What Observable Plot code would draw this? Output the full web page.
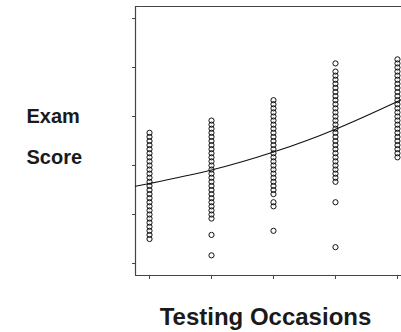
<!DOCTYPE html>
<html>
<head>
<meta charset="utf-8">
<script src="https://cdn.jsdelivr.net/npm/d3@7"></script>
<script src="https://cdn.jsdelivr.net/npm/@observablehq/plot@0.6"></script>
<style>
  html, body { margin: 0; padding: 0; background: #fff; overflow: hidden; }
  svg { display: block; }
</style>
</head>
<body>
<div id="chart"></div>
<script>
// Testing occasions (x categories)
const occasions = [1, 2, 3, 4, 5];

const scores1 = [6,7,8,9,10,11,12,13,14,15,16,17,18,19,20,21,22,23,24,25,26,27,28,29,30,31,32];
const scores2 = [2,7,11,12,13,14,15,16,17,18,19,20,21,22,23,24,25,26,27,28,29,30,31,32,33,34,35];
const scores3 = [8,14,15,17,18,19,20,21,22,23,24,25,26,27,28,29,30,31,32,33,34,35,36,37,38,39,40];
const scores4 = [4,15,20,21,22,23,24,25,26,27,28,29,30,31,32,33,34,35,36,37,38,39,40,41,42,43,44,45,46,47,49];
const scores5 = [26,27,28,29,30,31,32,33,34,35,36,37,38,39,40,41,42,43,44,45,46,47,48,49,50];

// Fitted growth curve, read at the frame edges and each occasion
const curveX = [0.774, 1, 2, 3, 4, 5, 5.065];
const curveY = [18.9, 19.6, 22.9, 27.3, 32.9, 39.7, 40.2];

// Axis ticks (unlabelled in the original)
const yTicks = [0, 12, 24, 36, 48, 60];
const xDomain = [0.774, 5.065];
const yDomain = [-2.94, 62.94];

const yLabelLines = ["Exam", "Score"];
const xLabel = "Testing Occasions";

const allScores = [scores1, scores2, scores3, scores4, scores5];
const points = [];
occasions.forEach((o, i) => allScores[i].forEach(s => points.push({occasion: o, score: s})));
const curve = curveX.map((x, i) => ({x, y: curveY[i]}));

const font = "Arial, 'Liberation Sans', Helvetica, sans-serif";
const axisColor = "#444";

const chart = Plot.plot({
  width: 401,
  height: 332,
  marginLeft: 135,
  marginRight: 0,
  marginTop: 6,
  marginBottom: 57,
  style: {fontFamily: font, background: "#fff", color: "#111"},
  x: {domain: xDomain, ticks: occasions, tickSize: 4, tickFormat: () => "", label: null},
  y: {domain: yDomain, ticks: yTicks, tickSize: 3, tickFormat: () => "", label: null},
  marks: [
    Plot.axisX({ticks: occasions, tickSize: 4, tickFormat: () => "", label: null, stroke: axisColor}),
    Plot.axisY({ticks: yTicks, tickSize: 3, tickFormat: () => "", label: null, stroke: axisColor}),
    Plot.ruleX([xDomain[0]], {stroke: axisColor, strokeWidth: 1.2}),
    Plot.ruleY([yDomain[0]], {stroke: axisColor, strokeWidth: 1.2}),
    Plot.ruleY([yDomain[1]], {stroke: axisColor, strokeWidth: 1.2}),
    Plot.dot(points, {x: "occasion", y: "score", r: 2.6, stroke: "#111", strokeWidth: 1, fill: "none"}),
    Plot.line(curve, {x: "x", y: "y", curve: "natural", stroke: "#111", strokeWidth: 1.1}),
    Plot.text([yLabelLines[0]], {frameAnchor: "left", dx: -109, dy: -18, textAnchor: "start", lineAnchor: "bottom",
      fontSize: 20, fontWeight: "bold", fill: "#1a1a1a"}),
    Plot.text([yLabelLines[1]], {frameAnchor: "left", dx: -109, dy: 23, textAnchor: "start", lineAnchor: "bottom",
      fontSize: 20, fontWeight: "bold", fill: "#1a1a1a"}),
    Plot.text([xLabel], {frameAnchor: "bottom", dx: -3, dy: 49, textAnchor: "middle", lineAnchor: "bottom",
      fontSize: 24, fontWeight: "bold", fill: "#1a1a1a"})
  ]
});
document.getElementById("chart").appendChild(chart);
</script>
</body>
</html>
